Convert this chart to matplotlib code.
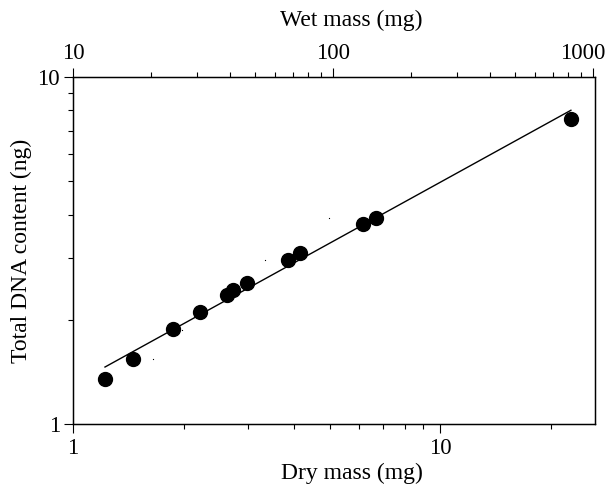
import numpy as np
import matplotlib
matplotlib.use("Agg")
import matplotlib.pyplot as plt
from matplotlib.ticker import LogLocator, NullFormatter, FixedLocator, FixedFormatter
from matplotlib.transforms import ScaledTranslation

# data
dry_mass = [1.222, 1.455, 1.876, 2.218, 2.623, 2.734, 2.973, 3.846, 4.155, 6.18, 6.69, 22.7]
dna_content = [1.348, 1.546, 1.881, 2.105, 2.363, 2.432, 2.552, 2.972, 3.101, 3.758, 3.911, 7.568]

# stray specks visible in the original
speck_x = [1.655, 1.985, 3.342, 4.973]
speck_y = [1.542, 1.868, 2.972, 3.911]

# power-law fit  y = a * x^b
fit_a = 1.301
fit_b = 0.582

plt.rcParams['font.family'] = ['Liberation Serif', 'DejaVu Serif']

fs_label = 17
fs_tick = 16.5

fig = plt.figure(figsize=(6.09, 4.87), dpi=100)
ax = fig.add_axes([0.1199, 0.1286, 0.977 - 0.1199, 0.8425 - 0.1286])

xfit = np.array([min(dry_mass), max(dry_mass)])
ax.plot(xfit, fit_a * xfit ** fit_b, color='black', lw=1.0)
ax.plot(dry_mass, dna_content, 'o', color='black', ms=10, mec='black')
ax.plot(speck_x, speck_y, 's', color='black', ms=0.8, mew=0)

ax.set_xscale('log')
ax.set_yscale('log')
ax.set_xlim(1, 26.4)
ax.set_ylim(1, 10)

ax.xaxis.set_major_locator(FixedLocator([1, 10]))
ax.xaxis.set_major_formatter(FixedFormatter(['1', '10']))
ax.xaxis.set_minor_locator(LogLocator(base=10, subs=np.arange(2, 10)))
ax.xaxis.set_minor_formatter(NullFormatter())
ax.yaxis.set_major_locator(FixedLocator([1, 10]))
ax.yaxis.set_major_formatter(FixedFormatter(['1', '10']))
ax.yaxis.set_minor_locator(LogLocator(base=10, subs=np.arange(2, 10)))
ax.yaxis.set_minor_formatter(NullFormatter())

ax.tick_params(which='major', direction='out', length=6.5, width=0.8, labelsize=fs_tick, pad=2.9)
ax.tick_params(which='minor', direction='out', length=3.6, width=0.8)
ax.tick_params(axis='x', which='major', pad=3.3)

for s in ax.spines.values():
    s.set_linewidth(1)

ax.set_xlabel('Dry mass (mg)', fontsize=fs_label, labelpad=2.7, x=0.5345)
ax.set_ylabel('Total DNA content (ng)', fontsize=fs_label, labelpad=3.6)

# top axis: wet mass
ax2 = ax.twiny()
ax2.set_xscale('log')
ax2.set_xlim(10, 1018)
ax2.xaxis.set_major_locator(FixedLocator([10, 100, 1000]))
ax2.xaxis.set_major_formatter(FixedFormatter(['10', '100', '1000']))
ax2.xaxis.set_minor_locator(LogLocator(base=10, subs=np.arange(2, 10)))
ax2.xaxis.set_minor_formatter(NullFormatter())
ax2.tick_params(which='major', direction='out', length=6.5, width=0.8, labelsize=fs_tick, pad=2.3)
ax2.tick_params(which='minor', direction='out', length=3.6, width=0.8)
ax2.set_xlabel('Wet mass (mg)', fontsize=fs_label, labelpad=12.8, x=0.533)

# the "1000" label sits slightly left of its tick, as in the original
fig.canvas.draw()
lab = ax2.get_xticklabels()[-1]
lab.set_transform(lab.get_transform() + ScaledTranslation(-10 / 100, 0, fig.dpi_scale_trans))

fig.savefig('out.png', dpi=100)
